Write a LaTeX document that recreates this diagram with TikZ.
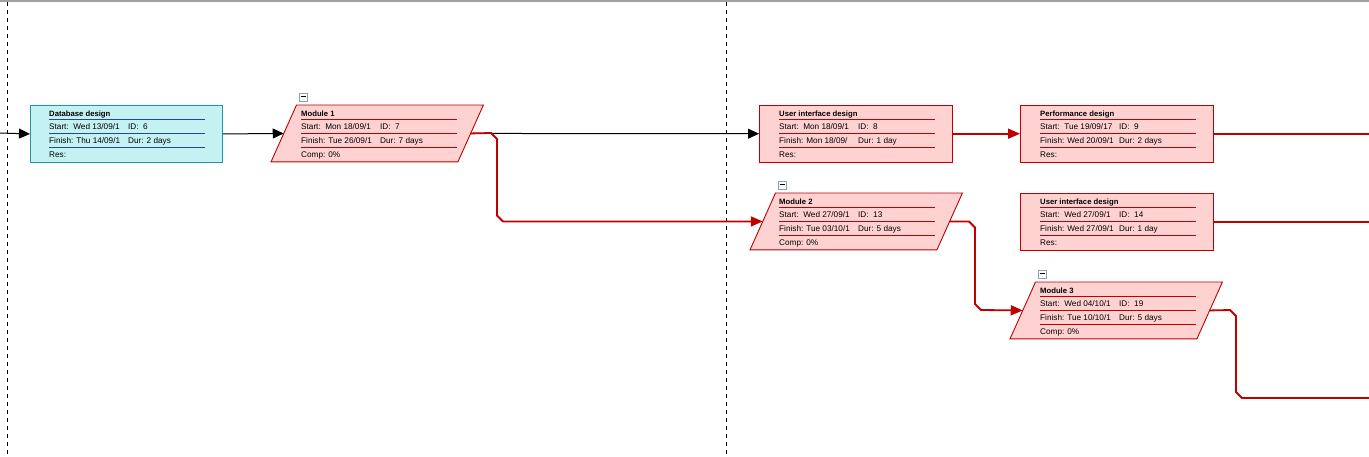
\documentclass[tikz,border=0pt]{standalone}
\usepackage{fontspec}
\setmainfont{Liberation Sans}
\usetikzlibrary{arrows.meta,calc}
\definecolor{dbfill}{RGB}{196,242,242}
\definecolor{dbdraw}{RGB}{32,150,160}
\definecolor{dbline}{RGB}{40,70,140}
\definecolor{rfill}{RGB}{255,210,210}
\definecolor{rdraw}{RGB}{192,0,0}
\definecolor{gridgray}{RGB}{160,160,160}
\definecolor{colbox}{RGB}{140,160,185}
\tikzset{
  txt/.style={anchor=base west, inner sep=0pt, font=\fontsize{8.2}{9}\selectfont, text=black},
  ttl/.style={txt, font=\fontsize{7.7}{9}\selectfont\bfseries},
  cyanbox/.style={rectangle, draw=dbdraw, fill=dbfill, line width=0.9pt, inner sep=0pt, minimum width=192pt, minimum height=57pt, anchor=north west},
  pinkbox/.style={rectangle, draw=rdraw, fill=rfill, line width=0.9pt, inner sep=0pt, minimum width=193pt, minimum height=56.5pt, anchor=north west},
  frame/.style={rectangle, draw=none, inner sep=0pt, minimum width=212pt, minimum height=56.5pt, anchor=north west},
  pinkshape/.style={draw=rdraw, fill=rfill, line width=0.9pt},
  colbtn/.style={rectangle, draw=colbox, fill=white, line width=0.7pt, minimum size=8pt, inner sep=0pt, anchor=north west},
  blackconn/.style={draw=black, line width=1pt, -{Triangle[length=11pt,width=10pt]}},
  redconn/.style={draw=rdraw, line width=1.8pt, -{Triangle[length=12pt,width=10pt]}},
  redline/.style={draw=rdraw, line width=1.8pt},
  divider/.style={draw=black, line width=0.9pt, dash pattern=on 4pt off 4pt},
}
\newcommand\taskinfo[9]{%
  \begin{scope}[shift={#2}]
    \node[ttl] (#1-t) at (0,11) {#4};
    \draw[#3, line width=0.9pt] (0,14.3) -- (155.5,14.3) (0,28.3) -- (155.5,28.3) (0,42.3) -- (155.5,42.3);
    \begin{scope}
      \clip (-1,15) rectangle (77.5,42);
      \node[txt] (#1-s) at (0,24.3) {Start:\ \ #5};
      \node[txt] (#1-f) at (0,38.3) {Finish: #7};
    \end{scope}
    \node[txt] (#1-i) at (79,24.3) {ID:\ \ #6};
    \node[txt] (#1-d) at (79,38.3) {Dur: #8};
    \node[txt] (#1-l) at (0,52.3) {#9};
  \end{scope}}
\newcommand\modshape[1]{%
  \draw[pinkshape] ($(#1.north west)+(25.5,0)$) -- (#1.north east) -- ($(#1.south east)+(-25.5,0)$) -- (#1.south west) -- cycle;
  \coordinate (#1-in) at ($(#1.west)+(12.75,0)$);
  \coordinate (#1-out) at ($(#1.east)+(-12.75,0)$);
  \node[colbtn] (#1-c) at ($(#1.north west)+(28,-12.5)$) {};
  \draw[line width=0.8pt] ($(#1-c.center)+(-2.5,0)$) -- ($(#1-c.center)+(2.5,0)$);}
\begin{document}
\begin{tikzpicture}[x=1pt,y=-1pt]
\useasboundingbox (0,0) rectangle (1369,456);
% frame and dividers
\draw[gridgray, line width=1.5pt] (0,0.75) -- (1369,0.75);
\draw[divider] (7.5,2) -- (7.5,456);
\draw[divider] (726,2) -- (726,456);
% tasks
\node[cyanbox] (db) at (30,105) {};
\node[frame] (m1) at (271,105) {};
\node[pinkbox] (ui8) at (759,105) {};
\node[pinkbox] (perf) at (1020,105) {};
\node[frame] (m2) at (750,193) {};
\node[pinkbox] (ui14) at (1020,193) {};
\node[frame] (m3) at (1010,282) {};
\modshape{m1}
\modshape{m2}
\modshape{m3}
\taskinfo{db}{(49,105)}{dbline}{Database design}{Wed 13/09/1}{6}{Thu 14/09/1}{2 days}{Res:}
\taskinfo{m1}{(301,105)}{rdraw}{Module 1}{Mon 18/09/1}{7}{Tue 26/09/1}{7 days}{Comp: 0\%}
\taskinfo{ui8}{(779,105)}{rdraw}{User interface design}{Mon 18/09/1}{8}{Mon 18/09/}{1 day}{Res:}
\taskinfo{perf}{(1040,105)}{rdraw}{Performance design}{Tue 19/09/17}{9}{Wed 20/09/1}{2 days}{Res:}
\taskinfo{m2}{(779,193)}{rdraw}{Module 2}{Wed 27/09/1}{13}{Tue 03/10/1}{5 days}{Comp: 0\%}
\taskinfo{ui14}{(1040,193)}{rdraw}{User interface design}{Wed 27/09/1}{14}{Wed 27/09/1}{1 day}{Res:}
\taskinfo{m3}{(1040,282)}{rdraw}{Module 3}{Wed 04/10/1}{19}{Tue 10/10/1}{5 days}{Comp: 0\%}
% free ends
\coordinate (lin) at (0,133);
\coordinate (redge) at (1369,0);
\coordinate (rout3) at (1369,398);
% connectors
\draw[blackconn] (lin) -- (db.west);
\draw[blackconn] (db.east) -- (m1-in);
\draw[blackconn] (m1-out) -- (ui8.west);
\draw[redconn] (m1-out) -- (491,133) -- (497,139) -- (497,215.5) -- (503,221.5) -- (m2-in);
\draw[redconn] (ui8.east) -- (perf.west);
\draw[redline] (perf.east) -- (perf.east -| redge);
\draw[redline] (ui14.east) -- (ui14.east -| redge);
\draw[redconn] (m2-out) -- (969,221.5) -- (975,227.5) -- (975,304) -- (981,310) -- (m3-in);
\draw[redline] (m3-out) -- (1230,310) -- (1236,316) -- (1236,392) -- (1242,398) -- (rout3);
\end{tikzpicture}
\end{document}
